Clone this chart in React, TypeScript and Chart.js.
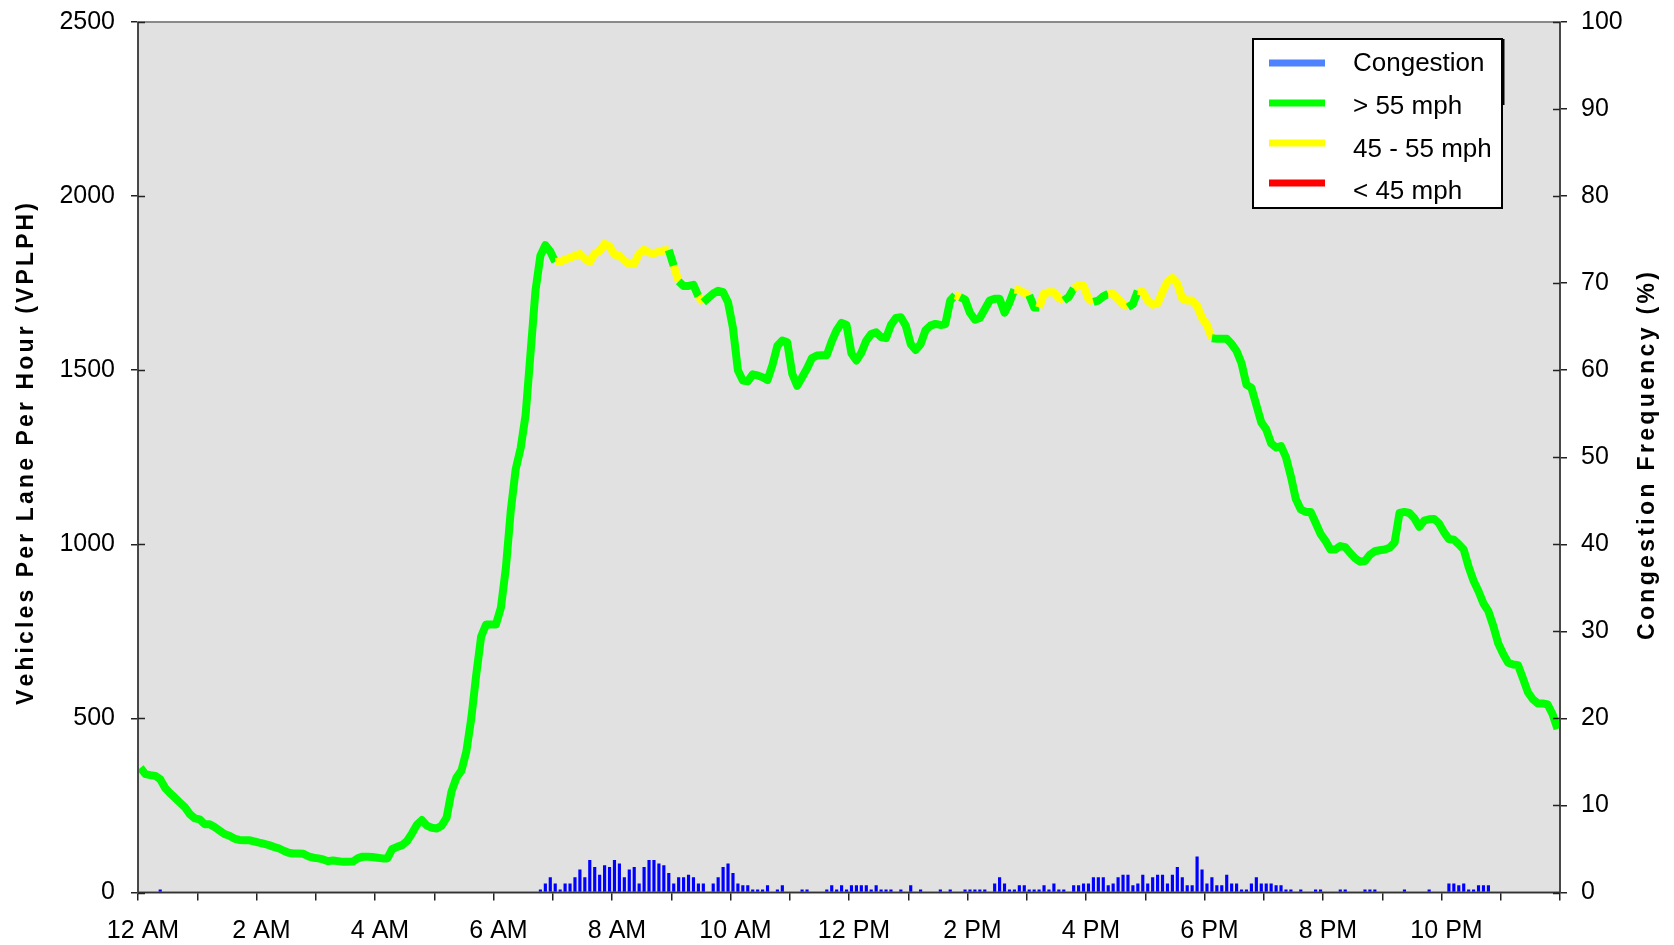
import React, { useEffect, useRef } from 'react';
import { Chart, registerables } from 'chart.js';

Chart.register(...registerables);

// ---- DATA (5-minute intervals, 288 per day) ----
const volumeVplph: number[] = [
  358, 340, 337, 335, 325, 300, 285, 272, 258, 245, 225, 213,
  210, 196, 196, 188, 178, 168, 163, 155, 151, 150, 150, 147,
  143, 140, 136, 131, 127, 120, 114, 112, 112, 111, 104, 100,
  98, 95, 90, 92, 90, 88, 88, 89, 98, 103, 103, 102,
  100, 98, 98, 125, 131, 136, 148, 170, 195, 208, 192, 186,
  184, 192, 215, 290, 330, 350, 405, 500, 625, 735, 770, 770,
  770, 818, 931, 1097, 1216, 1276, 1371, 1549, 1728, 1829, 1859, 1841,
  1811, 1812, 1818, 1823, 1829, 1834, 1820, 1811, 1835, 1842, 1863, 1856,
  1832, 1829, 1815, 1805, 1806, 1835, 1846, 1838, 1836, 1840, 1844, 1845,
  1800, 1755, 1742, 1742, 1745, 1712, 1695, 1708, 1720, 1728, 1724, 1695,
  1621, 1500, 1470, 1468, 1488, 1485, 1480, 1472, 1515, 1570, 1585, 1580,
  1490, 1455, 1480, 1505, 1535, 1542, 1543, 1543, 1583, 1615, 1636, 1630,
  1548, 1528, 1550, 1585, 1604, 1609, 1595, 1592, 1630, 1650, 1652, 1628,
  1575, 1558, 1575, 1615, 1628, 1633, 1630, 1632, 1700, 1715, 1710, 1703,
  1665, 1645, 1650, 1675, 1700, 1705, 1705, 1665, 1694, 1732, 1730, 1722,
  1715, 1680, 1680, 1720, 1724, 1724, 1708, 1700, 1710, 1735, 1743, 1743,
  1705, 1696, 1700, 1712, 1719, 1719, 1705, 1690, 1681, 1690, 1728, 1725,
  1700, 1688, 1692, 1725, 1755, 1765, 1750, 1705, 1700, 1700, 1685, 1650,
  1630, 1592, 1590, 1590, 1590, 1575, 1555, 1520, 1458, 1450, 1400, 1350,
  1330, 1290, 1278, 1282, 1250, 1195, 1130, 1100, 1093, 1093, 1062, 1030,
  1010, 985, 985, 995, 992, 975, 960, 950, 952, 970, 980, 983,
  985, 990, 1005, 1090, 1093, 1090, 1075, 1050, 1068, 1072, 1073, 1060,
  1035, 1015, 1013, 1000, 985, 935, 895, 865, 830, 808, 765, 715,
  685, 660, 655, 653, 615, 575, 555, 543, 543, 540, 512, 470,
];

const congestionPct: number[] = [
  0, 0, 0, 0, 0.3, 0, 0, 0, 0, 0, 0, 0,
  0, 0, 0, 0, 0, 0, 0, 0, 0, 0, 0, 0,
  0, 0, 0, 0, 0, 0, 0, 0, 0, 0, 0, 0,
  0, 0, 0, 0, 0, 0, 0, 0, 0, 0, 0, 0,
  0, 0, 0, 0, 0, 0, 0, 0, 0, 0, 0, 0,
  0, 0, 0, 0, 0, 0, 0, 0, 0, 0, 0, 0,
  0, 0, 0, 0, 0, 0, 0, 0, 0, 0.3, 1.0, 1.7,
  1.0, 0.3, 1.0, 1.0, 1.7, 2.6, 1.7, 3.7, 2.9, 2.0, 3.1, 2.9,
  3.7, 3.3, 1.7, 2.6, 2.9, 1.0, 2.9, 3.7, 3.7, 3.3, 3.1, 2.2,
  1.0, 1.7, 1.7, 2.0, 1.7, 1.0, 1.0, 0, 1.0, 1.7, 2.9, 3.3,
  2.2, 1.0, 0.8, 0.8, 0.3, 0.3, 0.3, 0.8, 0, 0.3, 0.8, 0,
  0, 0, 0.3, 0.3, 0, 0, 0, 0.3, 0.8, 0.3, 0.8, 0.3,
  0.8, 0.8, 0.8, 0.8, 0.3, 0.8, 0.3, 0.3, 0.3, 0, 0.3, 0,
  0.8, 0, 0.3, 0, 0, 0, 0.3, 0, 0.3, 0, 0, 0.3,
  0.3, 0.3, 0.3, 0.3, 0, 1.0, 1.7, 1.0, 0.3, 0.3, 0.8, 0.8,
  0.3, 0.3, 0.3, 0.8, 0.3, 1.0, 0.3, 0.3, 0, 0.8, 0.8, 1.0,
  1.0, 1.7, 1.7, 1.7, 0.8, 1.0, 1.7, 2.0, 2.0, 0.8, 1.0, 2.0,
  1.0, 1.7, 2.0, 2.0, 1.0, 2.0, 2.9, 1.7, 0.8, 0.8, 4.1, 2.6,
  1.0, 1.7, 0.8, 0.8, 2.0, 1.0, 1.0, 0.3, 0.3, 1.0, 1.7, 1.0,
  1.0, 1.0, 0.8, 0.8, 0.3, 0.3, 0, 0.3, 0, 0, 0.3, 0.3,
  0, 0, 0, 0.3, 0.3, 0, 0, 0, 0.3, 0.3, 0.3, 0,
  0, 0, 0, 0, 0.3, 0, 0, 0, 0, 0.3, 0, 0,
  0, 1.0, 1.0, 0.8, 1.0, 0.3, 0.3, 0.8, 0.8, 0.8, 0, 0,
  0, 0, 0, 0, 0, 0, 0, 0, 0, 0, 0, 0,
];

// segments (start index of segment, inclusive ranges) where speed was 45 - 55 mph
const yellowSegments: [number, number][] = [
  [84, 106], [108, 108], [113, 113], [165, 165], [177, 179],
  [182, 186], [189, 192], [196, 199], [202, 216],
];

const xTickLabels = ['12 AM', '2 AM', '4 AM', '6 AM', '8 AM', '10 AM', '12 PM', '2 PM', '4 PM', '6 PM', '8 PM', '10 PM'];
const legendLabels = ['Congestion', '> 55 mph', '45 - 55 mph', '< 45 mph'];
const legendColors = ['#4f82ff', '#00ff00', '#ffff00', '#ff0000'];
const leftTitle = 'Vehicles Per Lane Per Hour (VPLPH)';
const rightTitle = 'Congestion Frequency (%)';

const INTERVAL_MIN = 5;
const FONT = '"Liberation Sans", Arial, sans-serif';

const isYellow = (i: number) => yellowSegments.some(([a, b]) => i >= a && i <= b);

function drawSpaced(ctx: CanvasRenderingContext2D, text: string, targetLen: number) {
  const chars = [...text];
  const widths = chars.map((c) => ctx.measureText(c).width);
  const natural = widths.reduce((a, b) => a + b, 0);
  const spacing = (targetLen - natural) / (chars.length - 1);
  let x = -targetLen / 2;
  chars.forEach((c, i) => {
    ctx.fillText(c, x, 0);
    x += widths[i] + spacing;
  });
}

const framePlugin = {
  id: 'frame',
  beforeDraw(chart: any) {
    const { ctx, chartArea: a } = chart;
    ctx.save();
    ctx.fillStyle = '#e1e1e1';
    ctx.fillRect(a.left, a.top, a.right - a.left, a.bottom - a.top);
    ctx.restore();
  },
  afterDraw(chart: any) {
    const { ctx, chartArea: a } = chart;
    ctx.save();
    // frame
    ctx.strokeStyle = '#8a8a8a';
    ctx.lineWidth = 2;
    ctx.strokeRect(a.left, a.top, a.right - a.left, a.bottom - a.top);
    ctx.strokeStyle = '#333';
    ctx.lineWidth = 1.5;
    ctx.beginPath();
    ctx.moveTo(a.left, a.top);
    ctx.lineTo(a.left, a.bottom);
    ctx.lineTo(a.right, a.bottom);
    ctx.lineTo(a.right, a.top);
    ctx.stroke();
    // inner tick stubs on both value axes
    const yl = chart.scales.y;
    const yr = chart.scales.y1;
    ctx.strokeStyle = '#222';
    ctx.lineWidth = 1.5;
    ctx.beginPath();
    yl.ticks.forEach((t: any) => {
      const p = Math.round(yl.getPixelForValue(t.value)) + 0.5;
      ctx.moveTo(a.left, p);
      ctx.lineTo(a.left + 7, p);
    });
    yr.ticks.forEach((t: any) => {
      const p = Math.round(yr.getPixelForValue(t.value)) + 0.5;
      ctx.moveTo(a.right - 7, p);
      ctx.lineTo(a.right, p);
    });
    ctx.stroke();

    // axis titles
    ctx.fillStyle = '#000';
    ctx.font = `bold 23px ${FONT}`;
    ctx.textBaseline = 'middle';
    ctx.textAlign = 'left';
    ctx.save();
    ctx.translate(27, 454);
    ctx.rotate(-Math.PI / 2);
    drawSpaced(ctx, leftTitle, 502);
    ctx.restore();
    ctx.save();
    ctx.translate(1648, 456);
    ctx.rotate(-Math.PI / 2);
    drawSpaced(ctx, rightTitle, 368);
    ctx.restore();

    // legend
    const bx = 1253, by = 39, bw = 249, bh = 169;
    ctx.fillStyle = '#fff';
    ctx.fillRect(bx, by, bw, bh);
    ctx.strokeStyle = '#000';
    ctx.lineWidth = 2;
    ctx.strokeRect(bx, by, bw, bh);
    ctx.beginPath();
    ctx.moveTo(bx + bw + 1.5, by);
    ctx.lineTo(bx + bw + 1.5, by + 66);
    ctx.stroke();
    const lineYs = [63, 103, 143, 183];
    const textYs = [71, 113.5, 156.5, 199];
    ctx.font = `26px ${FONT}`;
    ctx.textBaseline = 'alphabetic';
    legendLabels.forEach((lab, i) => {
      ctx.strokeStyle = legendColors[i];
      ctx.lineWidth = 7;
      ctx.beginPath();
      ctx.moveTo(1269, lineYs[i]);
      ctx.lineTo(1325, lineYs[i]);
      ctx.stroke();
      ctx.fillStyle = '#000';
      ctx.fillText(lab, 1353, textYs[i]);
    });
    ctx.restore();
  },
};

const noVerticalPad = (w: number) => (s: any) => {
  s.width = w;
  s.paddingTop = 0;
  s.paddingBottom = 0;
};

export default function App() {
  const ref = useRef<HTMLCanvasElement>(null);
  useEffect(() => {
    document.body.style.margin = '0';
    const lineData = volumeVplph.map((v, i) => ({ x: i * INTERVAL_MIN + 2.5, y: v }));
    const barData = congestionPct.map((v, i) => ({ x: i * INTERVAL_MIN + 2.5, y: v }));
    const tickFont = { family: FONT, size: 25 };
    const chart = new Chart(ref.current as HTMLCanvasElement, {
      type: 'bar',
      data: {
        datasets: [
          {
            type: 'line',
            label: 'Volume',
            data: lineData,
            yAxisID: 'y',
            borderColor: '#00ff00',
            borderWidth: 8,
            pointRadius: 0,
            tension: 0,
            borderJoinStyle: 'round',
            borderCapStyle: 'butt',
            segment: {
              borderColor: (c: any) => (isYellow(c.p0DataIndex) ? '#ffff00' : '#00ff00'),
            },
            order: 0,
          } as any,
          {
            type: 'bar',
            label: 'Congestion',
            data: barData,
            yAxisID: 'y1',
            backgroundColor: '#0000ff',
            borderWidth: 0,
            barThickness: 2.5,
            order: 1,
          } as any,
        ],
      },
      options: {
        responsive: false,
        devicePixelRatio: 1,
        animation: false,
        layout: { padding: { top: 22, left: 0, right: 0, bottom: 0 } },
        plugins: { legend: { display: false }, tooltip: { enabled: false }, title: { display: false } },
        scales: {
          x: {
            type: 'linear',
            min: 0,
            max: 1440,
            offset: false,
            grid: { offset: false, drawOnChartArea: false, drawTicks: true, tickLength: 8, color: '#222', lineWidth: 1.5 },
            border: { display: false },
            ticks: {
              stepSize: 60,
              autoSkip: false,
              maxRotation: 0,
              padding: 16,
              labelOffset: 5,
              color: '#000',
              font: tickFont,
              callback: (v: any) => (v % 120 === 0 && v < 1440 ? xTickLabels[v / 120] : ''),
            },
            afterFit: (s: any) => { s.height = 52.5; s.paddingLeft = 0; s.paddingRight = 0; },
          },
          y: {
            position: 'left',
            min: 0,
            max: 2500,
            grid: { drawOnChartArea: false, drawTicks: true, tickLength: 7, color: '#222', lineWidth: 1.5 },
            border: { display: false },
            ticks: { stepSize: 500, padding: 16, color: '#000', font: tickFont, callback: (v: any) => String(v) },
            afterFit: noVerticalPad(138),
          },
          y1: {
            position: 'right',
            min: 0,
            max: 100,
            grid: { drawOnChartArea: false, drawTicks: true, tickLength: 7, color: '#222', lineWidth: 1.5 },
            border: { display: false },
            ticks: { stepSize: 10, padding: 14, color: '#000', font: tickFont, callback: (v: any) => String(v) },
            afterFit: noVerticalPad(114),
          },
        },
      } as any,
      plugins: [framePlugin],
    });
    return () => chart.destroy();
  }, []);
  return (
    <div style={{ width: 1674, height: 945 }}>
      <canvas ref={ref} width={1674} height={945} style={{ display: 'block' }} />
    </div>
  );
}
